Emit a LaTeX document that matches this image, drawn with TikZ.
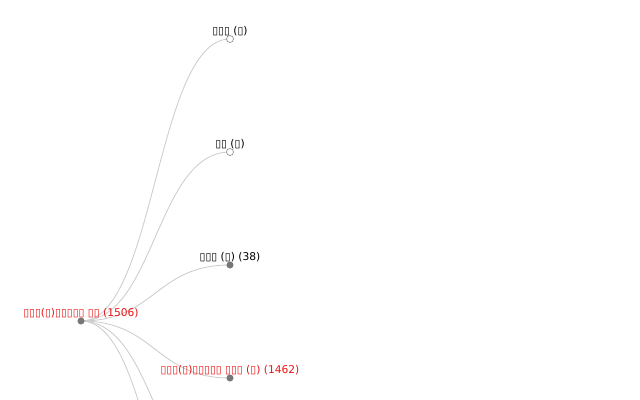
\documentclass[tikz,border=0pt]{standalone}
\usepackage{fontspec}
\setmainfont{DejaVu Sans}
\usetikzlibrary{calc}

\definecolor{linkgray}{RGB}{204,204,204}
\definecolor{dotgray}{RGB}{119,119,119}
\definecolor{hotred}{RGB}{235,20,20}

\begin{document}
\begin{tikzpicture}[
    x=0.025cm, y=-0.025cm,
    every node/.style={font=\fontsize{7.6}{9}\selectfont},
    link/.style={draw=linkgray, line width=0.6pt},
    fulldot/.style={circle, fill=dotgray, inner sep=0pt, minimum size=5pt},
    opendot/.style={circle, draw=dotgray!80, fill=white, line width=0.5pt, inner sep=0pt, minimum size=5pt},
    lbl/.style={anchor=base, inner sep=0pt},
    redlbl/.style={lbl, text=hotred}
]

\clip (0,0) rectangle (640,400);

\def\dx{74.5}

% positions
\coordinate (root) at (81,321);
\coordinate (c1) at (230,39);
\coordinate (c2) at (230,152);
\coordinate (c3) at (230,265);
\coordinate (c4) at (230,378);
\coordinate (c5) at (230,491);
\coordinate (c6) at (230,604);

% links
\foreach \c in {c1,c2,c3,c4,c5,c6}
    \draw[link] (root) .. controls +(\dx,0) and +(-\dx,0) .. (\c);

% dots
\node[fulldot] (rootdot) at (root) {};
\node[opendot] (c1dot) at (c1) {};
\node[opendot] (c2dot) at (c2) {};
\node[fulldot] (c3dot) at (c3) {};
\node[fulldot] (c4dot) at (c4) {};

% labels
\node[redlbl] (root-lbl) at ($(root)+(0,-4)$) {▯▯▯(▯)▯▯▯▯▯ ▯▯ (1506)};
\node[lbl] (c1-lbl) at ($(c1)+(0,-4)$) {▯▯▯ (▯)};
\node[lbl] (c2-lbl) at ($(c2)+(0,-4)$) {▯▯ (▯)};
\node[lbl] (c3-lbl) at ($(c3)+(0,-4)$) {▯▯▯ (▯) (38)};
\node[redlbl] (c4-lbl) at ($(c4)+(0,-4)$) {▯▯▯(▯)▯▯▯▯▯ ▯▯▯ (▯) (1462)};

\end{tikzpicture}
\end{document}
